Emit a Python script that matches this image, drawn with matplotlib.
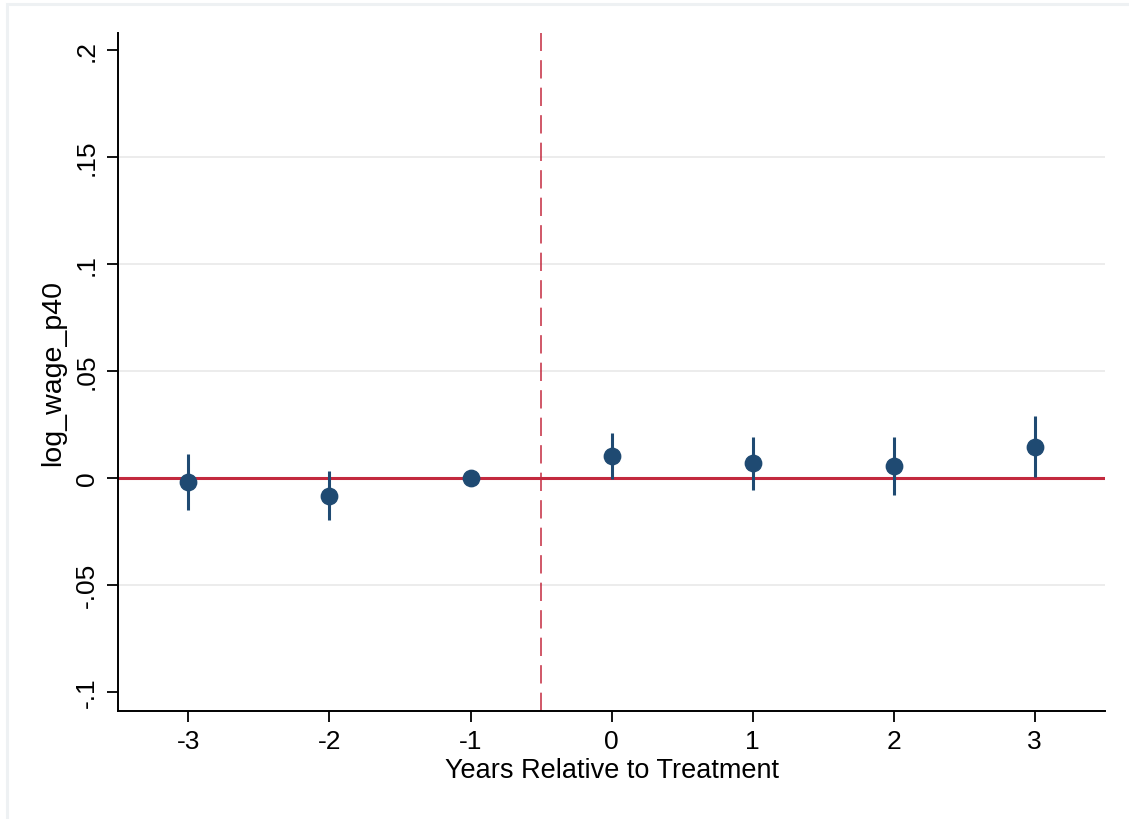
import matplotlib.pyplot as plt
from matplotlib.patches import Rectangle

# event-study estimates
years = [-3, -2, -1, 0, 1, 2, 3]
coef = [-0.0017, -0.0083, 0.0, 0.0100, 0.0070, 0.0056, 0.0146]
ci_low = [-0.0148, -0.0195, 0.0, -0.0005, -0.0055, -0.0078, 0.0003]
ci_high = [0.0112, 0.0031, 0.0, 0.0210, 0.0192, 0.0192, 0.0288]

ytick_vals = [-0.1, -0.05, 0, 0.05, 0.1, 0.15, 0.2]
ytick_labels = ['-.1', '-.05', '0', '.05', '.1', '.15', '.2']

navy = '#1f4a72'
red = '#c3293e'

plt.rcParams['font.family'] = ['Liberation Sans', 'DejaVu Sans']

fig = plt.figure(figsize=(11.29, 8.20), dpi=100)
# faint outer frame, as in the screenshot
fig.patches.append(Rectangle((7 / 1129, -0.1), 1.2, 1.1 - 5 / 820, transform=fig.transFigure,
                             fill=False, edgecolor='#eef1f3', linewidth=2.2))

ax = fig.add_axes([0.1045, 0.1317, 0.8743, 0.8268])

# gridlines only at interior ticks
for v in ytick_vals[1:-1]:
    ax.axhline(v, color='#ebebeb', linewidth=1.3, zorder=0)

ax.axhline(0, color=red, linewidth=2.2, zorder=1)
ax.axvline(-0.5, color=red, linewidth=1.1, linestyle=(0, (12, 6)), zorder=1)

ax.vlines(years, ci_low, ci_high, color=navy, linewidth=2.2, zorder=2)
ax.plot(years, coef, 'o', color=navy, markersize=11.8, zorder=3)

ax.set_xlim(-3.5, 3.5)
ax.set_ylim(-0.109, 0.208)
ax.set_xticks(years)
ax.set_xticklabels([str(y) for y in years])
ax.set_yticks(ytick_vals)
ax.set_yticklabels(ytick_labels, rotation=90, va='center')

ax.tick_params(axis='both', labelsize=19, length=8, width=1.3, color='black')
ax.tick_params(axis='x', pad=5)
ax.tick_params(axis='y', pad=6)

for side in ['top', 'right']:
    ax.spines[side].set_visible(False)
for side in ['left', 'bottom']:
    ax.spines[side].set_linewidth(1.4)

ax.set_xlabel('Years Relative to Treatment', fontsize=19.5, labelpad=3)
ax.set_ylabel('log_wage_p40', fontsize=20.5, labelpad=6)

fig.savefig('out.png', dpi=100)
plt.close(fig)
